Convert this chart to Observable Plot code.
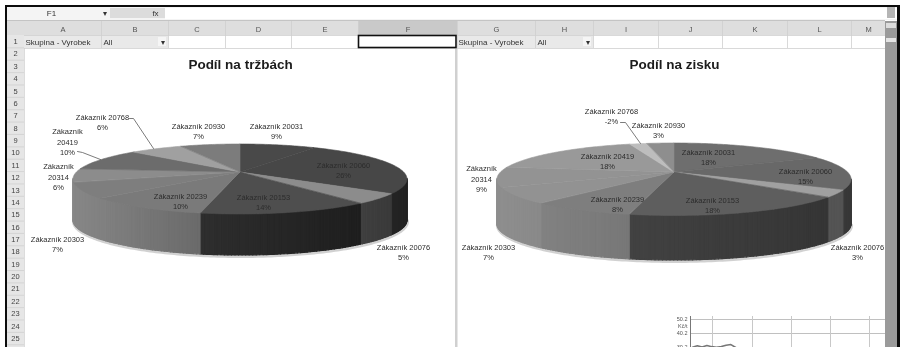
<!DOCTYPE html>
<html lang="cs">
<head>
<meta charset="utf-8">
<script src="https://cdn.jsdelivr.net/npm/d3@7"></script>
<script src="https://cdn.jsdelivr.net/npm/@observablehq/plot@0.6"></script>
<style>
  html, body { margin: 0; padding: 0; background: #fff; }
  svg { display: block; filter: grayscale(1); }
</style>
</head>
<body>
<div id="sheet"></div>
<script>
// Customers in the order the slices run clockwise from twelve o'clock
const customers = ["20031", "20060", "20076", "20153", "20239", "20303", "20314", "20419", "20768", "20930"];
const revenueShare = [8.9, 25.9, 4.6, 13.8, 10.1, 7.2, 6.2, 10.2, 6.2, 7.0];
const profitShare = [17.7, 15.3, 3.1, 17.5, 8.0, 7.0, 9.0, 18.0, -1.9, 3.0];

// Slice shades: top face, then rim
const revenueTop = ["#494949", "#474747", "#8c8c8c", "#4e4e4e", "#7a7a7a", "#7e7e7e", "#8c8c8c", "#6c6c6c", "#a0a0a0", "#7c7c7c"];
const revenueRim = ["#4d4d4d", "#4d4d4d", "#7a7a7a", "#3a3a3a", "#868686", "#868686", "#868686", "#868686", "#868686", "#868686"];
const profitTop = ["#6e6e6e", "#686868", "#a0a0a0", "#5e5e5e", "#7e7e7e", "#929292", "#939393", "#999999", "#bdbdbd", "#8e8e8e"];
const profitRim = ["#4f4f4f", "#4f4f4f", "#767676", "#4a4a4a", "#868686", "#8e8e8e", "#8e8e8e", "#8e8e8e", "#8e8e8e", "#8e8e8e"];

// Customers whose label breaks after the word "Zákazník"
const revenueWrapped = ["20314", "20419"];
const profitWrapped = ["20314"];

// Label centres, same order as customers
const revenueLabelX = [276, 343, 403, 263, 180, 57, 58, 67, 102, 198];
const revenueLabelY = [130, 169, 251, 201, 200, 243, 176, 141, 121, 130];
const profitLabelX = [708, 805, 857, 712, 617, 488, 481, 607, 611, 658];
const profitLabelY = [156, 175, 251, 204, 203, 251, 178, 160, 115, 129];

// Spreadsheet furniture
const columnNames = ["A", "B", "C", "D", "E", "F", "G", "H", "I", "J", "K", "L", "M"];
const columnEdges = [24, 101, 168, 225, 291, 358, 457, 535, 593, 658, 722, 787, 851, 885];
const rowNames = d3.range(1, 27).map(String);
const sheet = { rowTop: 35, rowHeight: 12.37, headerTop: 21 };

// Small chart peeking in at the lower edge of the sheet
const miniTicks = [50.2, 40.2, 30.2];
const miniSeries = [30.4, 31.4, 30.6, 31.6, 30.8, 30.4, 30.9, 31.8, 32.3, 30.2];
const miniVerticals = [712, 752, 791, 830, 869];
const miniAxisX = 690;
const miniY = v => 319 + (50.2 - v) * 1.4;

// Perspective-drawn pie geometry
const tilt = 0.2;
function piePoint(pie, turn) {
  const c = Math.sin(turn * 2 * Math.PI), s = -Math.cos(turn * 2 * Math.PI), w = 1 - tilt * s;
  return { x: pie.cx + pie.rx * c / w, y: pie.cy + pie.ry * s / w, s };
}

function buildPie(pie, shares, top, rim) {
  const total = d3.sum(shares, Math.abs);
  const fan = [], side = [], halo = [];
  let start = 0;
  shares.forEach((v, i) => {
    const end = start + Math.abs(v) / total;
    const steps = Math.max(2, Math.ceil((end - start) * 360));
    let previous = null;
    d3.range(steps + 1).forEach(k => {
      const turn = start + (end - start) * k / steps;
      const p = piePoint(pie, turn);
      fan.push({ id: `${pie.id}-${i}`, x1: pie.cx, y1: pie.cy, x2: p.x, y2: p.y, fill: top[i] });
      if (p.s >= tilt - 0.02) {
        halo.push({ x: p.x, y: p.y + pie.depth + 1 });
        if (previous) {
          // one vertical strip per step, darkening towards the right-hand side
          const t = ((p.x + previous.x) / 2 - pie.cx + pie.rx) / (2 * pie.rx);
          const fill = d3.rgb(d3.interpolateRgb(rim[i], "#000000")(pie.shade * t)).formatHex();
          const id = `${pie.id}-${i}-${k}`;
          side.push({ id, x: previous.x, y1: previous.y, y2: previous.y + pie.depth, fill });
          side.push({ id, x: p.x, y1: p.y, y2: p.y + pie.depth, fill });
        }
        previous = p;
      }
    });
    start = end;
  });
  return { fan, side, halo };
}

const revenuePie = { id: "revenue", cx: 240, cy: 172, rx: 163.6, ry: 33.6, depth: 41, shade: 0.55 };
const profitPie = { id: "profit", cx: 674, cy: 172, rx: 173.5, ry: 34.8, depth: 44.5, shade: 0.3 };
const revenue = buildPie(revenuePie, revenueShare, revenueTop, revenueRim);
const profit = buildPie(profitPie, profitShare, profitTop, profitRim);

function pieLabels(shares, xs, ys, wrapped) {
  return customers.map((name, i) => ({
    x: xs[i], y: ys[i],
    text: `Zákazník${wrapped.includes(name) ? "\n" : " "}${name}\n${Math.round(shares[i])}%`
  }));
}
const labels = [
  ...pieLabels(revenueShare, revenueLabelX, revenueLabelY, revenueWrapped),
  ...pieLabels(profitShare, profitLabelX, profitLabelY, profitWrapped)
];

const leaders = [
  { id: "a", x: 129, y: 118 }, { id: "a", x: 133, y: 118 }, { id: "a", x: 153, y: 148 },
  { id: "b", x: 77, y: 151 }, { id: "b", x: 82, y: 152 }, { id: "b", x: 100, y: 159 },
  { id: "c", x: 620, y: 122 }, { id: "c", x: 625, y: 122 }, { id: "c", x: 640, y: 143 }
];

const panels = [
  { x1: 5, x2: 897, y1: 7, y2: 20, fill: "#f4f4f4" },
  { x1: 110, x2: 165, y1: 8, y2: 18, fill: "#dcdcdc" },
  { x1: 165, x2: 897, y1: 8, y2: 19, fill: "#ffffff" },
  { x1: 5, x2: 885, y1: 20, y2: 21, fill: "#c4c4c4" },
  { x1: 7, x2: 885, y1: sheet.headerTop, y2: 35, fill: "#dedede" },
  { x1: 358, x2: 457, y1: sheet.headerTop, y2: 35, fill: "#c9c9c9" },
  { x1: 7, x2: 24, y1: 35, y2: 347, fill: "#e6e6e6" },
  { x1: 24, x2: 168, y1: 35, y2: 48, fill: "#e9e9e9" },
  { x1: 457, x2: 593, y1: 35, y2: 48, fill: "#e9e9e9" },
  { x1: 158, x2: 166, y1: 37, y2: 46, fill: "#f5f5f5" },
  { x1: 583, x2: 591, y1: 37, y2: 46, fill: "#f5f5f5" },
  { x1: 885, x2: 897, y1: 21, y2: 347, fill: "#9a9a9a" },
  { x1: 886, x2: 896, y1: 23, y2: 28, fill: "#dddddd" },
  { x1: 886, x2: 896, y1: 38, y2: 42, fill: "#e4e4e4" },
  { x1: 887, x2: 895, y1: 7, y2: 18, fill: "#b5b5b5" },
  { x1: 455, x2: 457.5, y1: 48, y2: 347, fill: "#d0d0d0" },
  { x1: 24, x2: 25, y1: 48, y2: 347, fill: "#dcdcdc" },
  // window frame
  { x1: 5, x2: 900, y1: 5, y2: 7, fill: "#0c0c0c" },
  { x1: 5, x2: 7, y1: 5, y2: 347, fill: "#0c0c0c" },
  { x1: 897, x2: 900, y1: 5, y2: 347, fill: "#0c0c0c" }
];

const centredText = [
  { x: 51, y: 13, text: "F1" },
  { x: 104, y: 13, text: "▾" },
  { x: 155, y: 13, text: "fx" },
  { x: 162, y: 41.5, text: "▾" },
  { x: 587, y: 41.5, text: "▾" }
];
const leftText = [
  { x: 25, y: 41.5, text: "Skupina - Vyrobek" },
  { x: 103, y: 41.5, text: "All" },
  { x: 458, y: 41.5, text: "Skupina - Vyrobek" },
  { x: 537, y: 41.5, text: "All" }
];

const plot = Plot.plot({
  width: 901,
  height: 347,
  margin: 0,
  x: { domain: [0, 901], range: [0, 901], axis: null },
  y: { domain: [0, 347], range: [0, 347], axis: null },
  style: { background: "#ffffff", fontFamily: "'Liberation Sans', sans-serif" },
  marks: [
    Plot.rect(panels, { x1: "x1", x2: "x2", y1: "y1", y2: "y2", fill: "fill" }),

    // column headings and cell borders
    Plot.ruleX(columnEdges.slice(1, -1), { y1: sheet.headerTop, y2: 48, stroke: "#cfcfcf", strokeWidth: 0.8 }),
    Plot.ruleY([35, 48], { x1: 24, x2: 885, stroke: "#cfcfcf", strokeWidth: 0.8 }),
    Plot.text(columnNames, {
      x: (d, i) => (columnEdges[i] + columnEdges[i + 1]) / 2, y: 29,
      text: d => d, fontSize: 7.5, fill: "#555555"
    }),

    // row numbers
    Plot.ruleY(rowNames, { y: (d, i) => sheet.rowTop + sheet.rowHeight * (i + 1), x1: 7, x2: 24, stroke: "#cdcdcd", strokeWidth: 0.7 }),
    Plot.text(rowNames, {
      x: 15, y: (d, i) => sheet.rowTop + sheet.rowHeight * (i + 0.5),
      text: d => d, fontSize: 7.5, fill: "#444444"
    }),

    // selected cell
    Plot.rect([0], { x1: 358.5, x2: 456, y1: 35.5, y2: 47.5, fill: "#ffffff", stroke: "#111111", strokeWidth: 1.6 }),

    Plot.text(centredText, { x: "x", y: "y", text: "text", fontSize: 8, fill: "#333333" }),
    Plot.text(leftText, { x: "x", y: "y", text: "text", textAnchor: "start", fontSize: 8, fill: "#333333" }),

    // chart titles
    Plot.text(["Podíl na tržbách"], { x: 240, y: 64, text: d => d, fontSize: 13.5, fontWeight: "bold", fill: "#1c1c1c" }),
    Plot.text(["Podíl na zisku"], { x: 674, y: 64, text: d => d, fontSize: 13.5, fontWeight: "bold", fill: "#1c1c1c" }),

    // pies: soft ground edge, rim, then the slices of the top face
    ...[revenue, profit].flatMap(p => [
      Plot.line(p.halo, { x: "x", y: "y", stroke: "#bdbdbd", strokeWidth: 3, strokeOpacity: 0.7, curve: "linear" }),
      Plot.area(p.side, { x1: "x", x2: "x", y1: "y1", y2: "y2", z: "id", fill: "fill", stroke: "fill", strokeWidth: 1.2, curve: "linear" }),
      Plot.area(p.fan, { x1: "x1", y1: "y1", x2: "x2", y2: "y2", z: "id", fill: "fill", stroke: "fill", strokeWidth: 0.6, curve: "linear" })
    ]),

    // leader lines
    Plot.line(leaders, { x: "x", y: "y", z: "id", stroke: "#5a5a5a", strokeWidth: 0.8, curve: "linear" }),

    // slice labels
    Plot.text(labels, {
      x: "x", y: "y", text: "text", fontSize: 7.5, lineHeight: 1.38, fill: "#2c2c2c"
    }),

    // small chart at the lower edge
    Plot.ruleY(miniTicks, { y: miniY, x1: miniAxisX, x2: 885, stroke: "#c0c0c0", strokeWidth: 1 }),
    Plot.ruleX(miniVerticals, { y1: 316, y2: 347, stroke: "#c8c8c8", strokeWidth: 1 }),
    Plot.ruleX([miniAxisX], { y1: 316, y2: 347, stroke: "#777777", strokeWidth: 1 }),
    Plot.text(miniTicks, { x: 687, y: miniY, text: d => d.toFixed(1), textAnchor: "end", fontSize: 5.5, fill: "#555555" }),
    Plot.text(["Kč/t"], { x: 687, y: 326, text: d => d, textAnchor: "end", fontSize: 5.5, fill: "#555555" }),
    Plot.line(miniSeries, {
      x: (d, i) => 692 + i * 4.8, y: miniY, stroke: "#777777", strokeWidth: 1.6, curve: "linear"
    })
  ]
});

document.getElementById("sheet").append(plot);
</script>
</body>
</html>
